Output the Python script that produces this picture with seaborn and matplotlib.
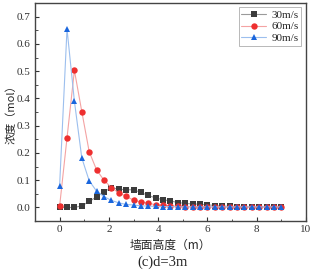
import numpy as np
import pandas as pd
import matplotlib
matplotlib.use("Agg")
import matplotlib.pyplot as plt
import seaborn as sns
from matplotlib.ticker import MultipleLocator

# wall height (m)
height = [0.0, 0.3, 0.6, 0.9, 1.2, 1.5, 1.8, 2.1, 2.4, 2.7, 3.0, 3.3, 3.6, 3.9, 4.2, 4.5,
          4.8, 5.1, 5.4, 5.7, 6.0, 6.3, 6.6, 6.9, 7.2, 7.5, 7.8, 8.1, 8.4, 8.7, 9.0]
v30 = [0.0, 0.0, 0.0, 0.006, 0.022, 0.039, 0.057, 0.073, 0.067, 0.065, 0.065, 0.055, 0.044,
       0.035, 0.028, 0.024, 0.018, 0.015, 0.013, 0.012, 0.010, 0.007, 0.005, 0.004, 0.003,
       0.003, 0.002, 0.002, 0.002, 0.002, 0.002]
v60 = [0.005, 0.255, 0.503, 0.352, 0.205, 0.138, 0.100, 0.073, 0.054, 0.041, 0.027, 0.020,
       0.016, 0.010, 0.008, 0.006, 0.004, 0.003, 0.003, 0.002, 0.002, 0.001, 0.001, 0.001,
       0.001, 0.001, 0.001, 0.001, 0.001, 0.001, 0.001]
v90 = [0.080, 0.655, 0.390, 0.182, 0.098, 0.060, 0.040, 0.026, 0.017, 0.011, 0.009, 0.006,
       0.005, 0.004, 0.003, 0.003, 0.002, 0.002, 0.002, 0.002, 0.002, 0.002, 0.002, 0.002,
       0.002, 0.002, 0.002, 0.002, 0.002, 0.002, 0.002]
labels = ["30m/s", "60m/s", "90m/s"]

df = pd.DataFrame({"h": height * 3,
                   "c": v30 + v60 + v90,
                   "s": [labels[0]] * len(height) + [labels[1]] * len(height) + [labels[2]] * len(height)})

sns.set_style("white")
plt.rcParams['font.family'] = ['Liberation Serif', 'Noto Sans CJK SC']
plt.rcParams['axes.unicode_minus'] = False

fig = plt.figure(figsize=(3.21, 2.75), dpi=100)
ax = fig.add_axes([0.109, 0.196, 0.844, 0.793])

styles = {
    "30m/s": dict(marker="s", mc="#3c3c3c", lc="#9a9a9a", ms=4.3),
    "60m/s": dict(marker="o", mc="#ee2f2f", lc="#f4a3a3", ms=4.6),
    "90m/s": dict(marker="^", mc="#1a66dd", lc="#9cbfee", ms=5.0),
}
for s in labels:
    st = styles[s]
    sns.lineplot(data=df[df["s"] == s], x="h", y="c", ax=ax, color=st["lc"], lw=0.8,
                 marker=st["marker"], markersize=st["ms"], markerfacecolor=st["mc"],
                 markeredgecolor=st["mc"], markeredgewidth=0, label=s)

ax.set_xlim(-1, 10)
ax.set_ylim(-0.05, 0.75)
ax.xaxis.set_major_locator(MultipleLocator(2))
ax.xaxis.set_minor_locator(MultipleLocator(1))
ax.yaxis.set_minor_locator(MultipleLocator(0.05))
ax.set_yticks(np.arange(0, 0.71, 0.1))
ax.set_yticklabels([f"{v:.1f}" for v in np.arange(0, 0.71, 0.1)])
ax.tick_params(which="both", bottom=True, left=True, top=False, right=False)
ax.tick_params(which="major", direction="in", length=3, width=0.8, labelsize=8, colors="#333333", pad=3)
ax.tick_params(which="minor", direction="in", length=1.8, width=0.6, colors="#333333")
for sp in ax.spines.values():
    sp.set_color("#444444")
    sp.set_linewidth(1.0)

ax.set_xlabel("墙面高度（m）", fontsize=8.5, family=['Noto Sans CJK SC'], labelpad=3)
ax.set_ylabel("浓度（mol）", fontsize=8, family=['Noto Sans CJK SC'])
ax.yaxis.set_label_coords(-0.068, 0.5)

leg = ax.legend(loc="upper right", fontsize=8, frameon=True, fancybox=False,
                borderpad=0.25, labelspacing=0.15, handlelength=2.2, handletextpad=0.5,
                borderaxespad=0.4)
leg.get_frame().set_edgecolor("#999999")
leg.get_frame().set_linewidth(0.6)

fig.text(0.505, 0.045, "(c)d=3m", ha="center", va="center", fontsize=10.5)

fig.savefig("out.png", dpi=100)
